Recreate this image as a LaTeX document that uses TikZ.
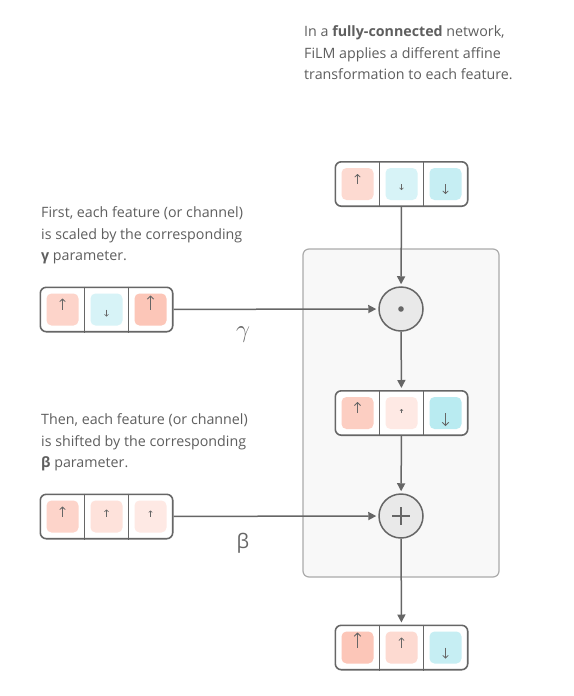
\documentclass[tikz,border=0pt]{standalone}
\usepackage{fontspec}
\setmainfont{Open Sans}
\usetikzlibrary{arrows.meta, calc, fit, matrix, positioning, backgrounds}

\definecolor{ink}{HTML}{666666}
\definecolor{txt}{HTML}{5E5E5E}
\definecolor{panel}{HTML}{F8F8F8}
\definecolor{panelline}{HTML}{ABABAB}
\definecolor{opfill}{HTML}{E9E9E9}
% reds (up) from light to strong, blues (down)
\definecolor{pa}{HTML}{FEE9E4}
\definecolor{pb}{HTML}{FEE2DB}
\definecolor{pc}{HTML}{FDDAD1}
\definecolor{pd}{HTML}{FDD4CA}
\definecolor{pe}{HTML}{FCCEC2}
\definecolor{pf}{HTML}{FCC6B8}
\definecolor{na}{HTML}{D7F3F7}
\definecolor{nb}{HTML}{C6EEF3}
\definecolor{nc}{HTML}{B9EBF1}

\tikzset{
  VecCell/.style={fill=#1, rounded corners=5pt, minimum size=32pt, inner sep=0pt},
  VecCell/.default=white,
  VecRow/.style={matrix of nodes, nodes in empty cells, nodes={VecCell},
                 column sep=12pt, inner sep=0pt},
  VecBox/.style={draw=ink, line width=1.6pt, fill=white, rounded corners=6pt,
                 inner sep=6pt},
  ValArrow/.style={draw=ink, line width=#1*0.8pt,
                   -{Straight Barb[length=#1*2.6pt, width=#1*5.6pt]}},
  ValArrow/.default=1,
}

\begin{document}
\begin{tikzpicture}[x=1pt, y=-1pt,
    Note/.style={text=txt, align=left, inner sep=0pt, anchor=north west,
                 font={\fontsize{14.25}{21.5}\selectfont}},
    OpNode/.style={circle, draw=ink, line width=1.5pt, fill=opfill, minimum size=44pt},
    Conn/.style={draw=ink, line width=1.5pt, -{Triangle[length=8pt, width=8pt]}, shorten >=2pt},
  ]
\useasboundingbox (0,0) rectangle (573,696);

% feature vectors
\matrix (T) [VecRow] at (401.5,184) {|[VecCell=pc]| & |[VecCell=na]| & |[VecCell=nb]| \\};
\matrix (G) [VecRow] at (106.5,309.5) {|[VecCell=pd]| & |[VecCell=na]| & |[VecCell=pf]| \\};
\matrix (M) [VecRow] at (401.5,413) {|[VecCell=pe]| & |[VecCell=pa]| & |[VecCell=nc]| \\};
\matrix (B) [VecRow] at (106.5,516.5) {|[VecCell=pd]| & |[VecCell=pb]| & |[VecCell=pa]| \\};
\matrix (O) [VecRow] at (401.5,647.5) {|[VecCell=pf]| & |[VecCell=pc]| & |[VecCell=nb]| \\};

% operations
\node[OpNode, path picture={\fill[ink] (path picture bounding box.center) circle (2.8pt);}]
  (mul) at (401,309) {};
\node[OpNode, path picture={\draw[ink, line width=1.2pt]
    ($(path picture bounding box.center)+(-9,0)$) -- ++(18,0)
    ($(path picture bounding box.center)+(0,-9)$) -- ++(0,18);}]
  (add) at (401,516) {};

\begin{scope}[on background layer]
  \draw[draw=panelline, fill=panel, line width=1.2pt, rounded corners=6pt]
    (303,249) rectangle (499,577);
  \foreach \v in {T,G,M,B,O} {
    \node[VecBox, fit=(\v-1-1)(\v-1-3)] (\v-box) {};
    \foreach \i/\j in {1/2,2/3} {
      \coordinate (\v-sep\i) at ($(\v-1-\i.east)!.5!(\v-1-\j.west)$);
      \draw[ink, line width=1.6pt] (\v-sep\i |- \v-box.north) -- (\v-sep\i |- \v-box.south);
    }
  }
\end{scope}

% values
\foreach \c/\l/\s in {T-1-1/-10/1, T-1-2/6/.7, T-1-3/10/1,
                      G-1-1/-11/1, G-1-2/7/.7, G-1-3/-14/1.15,
                      M-1-1/-11/1.1, M-1-2/-4/.55, M-1-3/13/1.15,
                      B-1-1/-10/1, B-1-2/-7/.75, B-1-3/-6/.65,
                      O-1-1/-15/1.2, O-1-2/-10/.95, O-1-3/11/1}
  \draw[ValArrow=\s] (\c.center) -- ++(0,\l);

% connectors
\draw[Conn] (T-box) -- (mul);
\draw[Conn] (mul) -- (M-box);
\draw[Conn] (M-box) -- (add);
\draw[Conn] (add) -- (O-box);
\draw[Conn] (G-box) -- (mul);
\draw[Conn] (B-box) -- (add);

\node[text=ink, font=\fontsize{26}{26}\selectfont] (gam) at (243,335) {$\gamma$};
\node[text=ink, font=\fontsize{20}{20}\selectfont] (bet) at (243,543) {β};

% notes
\node[Note] (topnote) at (304,25.5)
  {In a \textbf{fully-connected} network,\\FiLM applies a different affine\\transformation to each feature.};
\node[Note] (gamnote) at (41,206.5)
  {First, each feature (or channel)\\is scaled by the corresponding\\\textbf{γ} parameter.};
\node[Note] (betnote) at (41,413.5)
  {Then, each feature (or channel)\\is shifted by the corresponding\\\textbf{β} parameter.};
\end{tikzpicture}
\end{document}
